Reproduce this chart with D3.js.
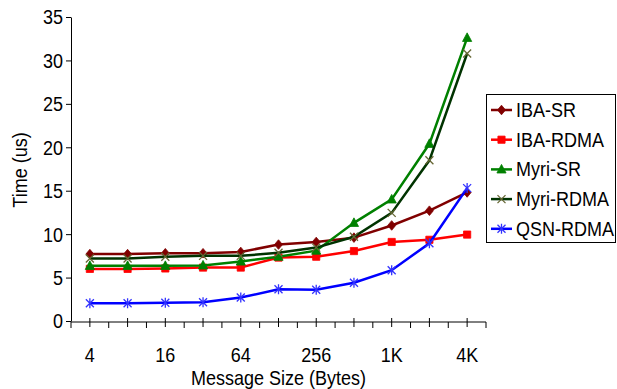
<!DOCTYPE html>
<html>
<head>
<meta charset="utf-8">
<script src="https://cdn.jsdelivr.net/npm/d3@7"></script>
<style>
  body { margin: 0; background: #fff; }
  svg { display: block; font-family: "Liberation Sans", Arial, sans-serif; }
</style>
</head>
<body>
<svg id="chart" width="617" height="389"></svg>
<script>
// message sizes on the x axis
const sizes = ["4", "8", "16", "32", "64", "128", "256", "512", "1K", "2K", "4K"]
const shownLabels = ["4", "16", "64", "256", "1K", "4K"]
const yTicks = [0, 5, 10, 15, 20, 25, 30, 35]

// latency (us) per series
const ibaSR    = [7.7, 7.7, 7.8, 7.8, 7.95, 8.8, 9.1, 9.6, 11.0, 12.7, 14.8]
const ibaRDMA  = [6.0, 6.0, 6.05, 6.15, 6.15, 7.3, 7.4, 8.05, 9.1, 9.35, 9.95]
const myriSR   = [6.35, 6.35, 6.35, 6.4, 6.85, 7.4, 8.1, 11.3, 14.0, 20.4, 32.6]
const myriRDMA = [7.2, 7.2, 7.4, 7.5, 7.5, 7.85, 8.45, 9.7, 12.45, 18.5, 30.8]
const qsnRDMA  = [2.05, 2.05, 2.1, 2.15, 2.7, 3.65, 3.6, 4.4, 5.85, 8.95, 15.3]

const seriesNames = ["IBA-SR", "IBA-RDMA", "Myri-SR", "Myri-RDMA", "QSN-RDMA"]

const series = [
  { name: seriesNames[0], values: ibaSR,    color: "#800000", mcolor: "#800000", marker: "diamond" },
  { name: seriesNames[1], values: ibaRDMA,  color: "#ff0000", mcolor: "#ff0000", marker: "square" },
  { name: seriesNames[2], values: myriSR,   color: "#008000", mcolor: "#008000", marker: "triangle" },
  { name: seriesNames[3], values: myriRDMA, color: "#003300", mcolor: "#666633", marker: "cross" },
  { name: seriesNames[4], values: qsnRDMA,  color: "#0000ff", mcolor: "#3333ff", marker: "star" }
]

const svg = d3.select('#chart')
const plotLeft = 71, plotRight = 486, plotTop = 17, plotBottom = 321

const xBand = d3.scaleBand().domain(sizes).range([plotLeft, plotRight])
const xc = d => xBand(d) + xBand.bandwidth() / 2
const y = d3.scaleLinear().domain([0, 35]).range([plotBottom, plotTop])

// y axis
const yAxis = svg.append('g')
  .attr('transform', 'translate(' + plotLeft + ',0)')
  .call(d3.axisLeft(y).tickValues(yTicks).tickSize(5).tickSizeOuter(0))
yAxis.select('.domain').attr('stroke', '#000')
yAxis.selectAll('line').attr('stroke', '#000')
yAxis.selectAll('text')
  .attr('font-size', '18px')
  .attr('fill', '#000')
  .attr('dy', null)
  .attr('y', 6)
  .attr('transform', 'scale(1,1.15)')

// x axis: ticks at category centres (crossing) and boundaries (below)
const xAxis = svg.append('g').attr('transform', 'translate(0,' + (plotBottom + 1) + ')')
xAxis.append('line')
  .attr('x1', plotLeft).attr('x2', plotRight)
  .attr('stroke', '#000')
xAxis.selectAll('.edge')
  .data(sizes.concat(['end']))
  .join('line')
  .attr('class', 'edge')
  .attr('x1', (d, i) => i < sizes.length ? xBand(d) : plotRight)
  .attr('x2', (d, i) => i < sizes.length ? xBand(d) : plotRight)
  .attr('y1', 0).attr('y2', 6)
  .attr('stroke', '#000')
xAxis.selectAll('.mid')
  .data(sizes)
  .join('line')
  .attr('class', 'mid')
  .attr('x1', d => xc(d)).attr('x2', d => xc(d))
  .attr('y1', -4).attr('y2', 5)
  .attr('stroke', '#000')
xAxis.selectAll('.lbl')
  .data(shownLabels)
  .join('text')
  .attr('class', 'lbl')
  .attr('text-anchor', 'middle')
  .attr('font-size', '18px')
  .attr('transform', d => 'translate(' + xc(d) + ',40) scale(1,1.15)')
  .text(d => d)

// axis titles
svg.append('text')
  .attr('text-anchor', 'middle')
  .attr('font-size', '18px')
  .attr('transform', 'translate(' + ((plotLeft + plotRight) / 2) + ',385) scale(1,1.15)')
  .text('Message Size (Bytes)')
svg.append('text')
  .attr('text-anchor', 'middle')
  .attr('font-size', '18px')
  .attr('transform', 'translate(27,170) rotate(-90) scale(1,1.15)')
  .text('Time (us)')

// marker shapes
function markerPath(kind) {
  if (kind === 'diamond') return 'M0,-4.8L4,0L0,4.8L-4,0Z'
  if (kind === 'square') return 'M-3.6,-3.6H3.6V3.6H-3.6Z'
  if (kind === 'triangle') return 'M0,-5L4.6,3.6H-4.6Z'
  if (kind === 'cross') return 'M-4,-4L4,4M-4,4L4,-4'
  return 'M-4,-4L4,4M-4,4L4,-4M0,-5V5'
}
function drawMarker(g, kind, color) {
  const open = kind === 'cross' || kind === 'star'
  g.append('path')
    .attr('d', markerPath(kind))
    .attr('fill', open ? 'none' : color)
    .attr('stroke', color)
    .attr('stroke-width', open ? 1.3 : 0.8)
}

const line = d3.line()
  .x((d, i) => xc(sizes[i]))
  .y(d => y(d))

series.forEach(s => {
  svg.append('path')
    .datum(s.values)
    .attr('fill', 'none')
    .attr('stroke', s.color)
    .attr('stroke-width', 2.5)
    .attr('d', line)
  s.values.forEach((v, i) => {
    const g = svg.append('g').attr('transform', 'translate(' + xc(sizes[i]) + ',' + y(v) + ')')
    drawMarker(g, s.marker, s.mcolor)
  })
})

// legend
const lg = svg.append('g')
lg.append('rect')
  .attr('x', 486.5).attr('y', 94.5)
  .attr('width', 129).attr('height', 148)
  .attr('fill', '#fff')
  .attr('stroke', '#000')
series.forEach((s, i) => {
  const ly = 110 + i * 29.7
  lg.append('line')
    .attr('x1', 491).attr('x2', 512)
    .attr('y1', ly).attr('y2', ly)
    .attr('stroke', s.color)
    .attr('stroke-width', 2.5)
  drawMarker(lg.append('g').attr('transform', 'translate(501.5,' + ly + ')'), s.marker, s.mcolor)
  lg.append('text')
    .attr('font-size', '18px')
    .attr('transform', 'translate(516,' + (ly + 7) + ') scale(1,1.15)')
    .text(s.name)
})
</script>
</body>
</html>
